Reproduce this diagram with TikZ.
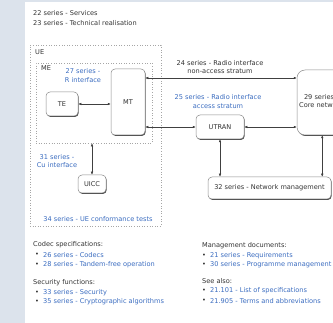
\documentclass[tikz,border=0pt]{standalone}
\usepackage{fontspec}
\setmainfont{DejaVu Sans}
\usetikzlibrary{arrows.meta,shadows}
\definecolor{linkblue}{HTML}{3A6CC0}
\definecolor{txt}{HTML}{333333}
\definecolor{strip}{HTML}{DCE3EC}
\begin{document}
\begin{tikzpicture}[x=1pt,y=-1pt,font=\fontsize{6.6}{8.2}\selectfont,
  box/.style={draw=black!45, fill=white, rounded corners=4pt, line width=0.5pt,
    drop shadow={shadow xshift=0.7pt, shadow yshift=-1pt, fill=black!70, opacity=1},
    inner sep=0pt, text=txt},
  frame/.style={draw=black!35, dotted, line width=0.6pt, inner sep=0pt},
  arr/.style={{Latex[length=3pt,width=2.6pt]}-{Latex[length=3pt,width=2.6pt]}, draw=black!75, line width=0.5pt},
  lbl/.style={text=txt, align=center, inner sep=0pt},
  lnk/.style={text=linkblue, align=center, inner sep=0pt},
  head/.style={text=txt, anchor=west, inner sep=0pt},
  item/.style={text=linkblue, anchor=west, inner sep=0pt},
  bul/.style={text=txt, anchor=center, inner sep=0pt}]
\useasboundingbox (0,0) rectangle (333,323);
\fill[strip] (0,0) rectangle (333,323);
\fill[white] (25,2) rectangle (333,323);

% header
\node[head] (h22) at (33,13) {22 series - Services};
\node[head] (h23) at (33,23) {23 series - Technical realisation};

% frames
\node[frame, minimum width=131pt, minimum height=181pt] (UE) at (95.5,135.5) {};
\node[frame, minimum width=116pt, minimum height=80pt] (ME) at (94,103) {};
\node[head] (ueL) at (35,52.5) {UE};
\node[head] (meL) at (41,68) {ME};

% boxes
\node[box, minimum width=32pt, minimum height=24pt] (TE) at (62,104) {TE};
\node[box, minimum width=34pt, minimum height=66pt] (MT) at (128,102) {MT};
\node[box, minimum width=48pt, minimum height=24pt] (UTRAN) at (220,127) {UTRAN};
\node[box, minimum width=28pt, minimum height=18pt] (UICC) at (92,184) {UICC};
\node[box, rounded corners=8pt, minimum width=70pt, minimum height=65pt] (CN) at (332,102.5) {};
\node[lbl, anchor=west] (cnL) at (299,101) {29 series -\\Core network};
\node[box, minimum width=123pt, minimum height=22pt] (NM) at (269.5,188) {32 series - Network management};

% labels
\node[lnk] (rif) at (83,75.5) {27 series -\\R interface};
\node[lbl] (nas) at (220,67) {24 series - Radio interface\\non-access stratum};
\node[lnk] (as) at (218,101.5) {25 series - Radio interface\\access stratum};
\node[lnk] (cu) at (57,161) {31 series -\\Cu interface};
\node[lnk] (conf) at (98,219) {34 series - UE conformance tests};

% connectors
\draw[arr] (TE.east) -- (TE.east -| MT.west);
\draw[arr] ([yshift=24pt]MT.east) -- ([yshift=24pt]MT.east -| CN.west);
\draw[arr] (UTRAN.west -| MT.east) -- (UTRAN.west);
\draw[arr] (UTRAN.east) -- (UTRAN.east -| CN.west);
\draw[arr] (ME.south -| UICC.north) -- (UICC.north);
\draw[arr] (UTRAN.south) -- (UTRAN.south |- NM.north);
\draw[arr] ([xshift=-9pt]NM.north east |- CN.south) -- ([xshift=-9pt]NM.north east);

% lists
\node[head] (cs) at (33,245) {Codec specifications:};
\node[bul] (b1) at (37,255) {•}; \node[item] (i1) at (43,255) {26 series - Codecs};
\node[bul] (b2) at (37,264.5) {•}; \node[item] (i2) at (43,264.5) {28 series - Tandem-free operation};
\node[head] (sf) at (33,283) {Security functions:};
\node[bul] (b3) at (37,292.5) {•}; \node[item] (i3) at (43,292.5) {33 series - Security};
\node[bul] (b4) at (37,302) {•}; \node[item] (i4) at (43,302) {35 series - Cryptographic algorithms};

\node[head] (md) at (202,246) {Management documents:};
\node[bul] (b5) at (204,255.5) {•}; \node[item] (i5) at (210,255.5) {21 series - Requirements};
\node[bul] (b6) at (204,265) {•}; \node[item] (i6) at (210,265) {30 series - Programme management};
\node[head] (sa) at (202,281) {See also:};
\node[bul] (b7) at (204,291) {•}; \node[item] (i7) at (210,291) {21.101 - List of specifications};
\node[bul] (b8) at (204,301) {•}; \node[item] (i8) at (210,301) {21.905 - Terms and abbreviations};
\end{tikzpicture}
\end{document}
